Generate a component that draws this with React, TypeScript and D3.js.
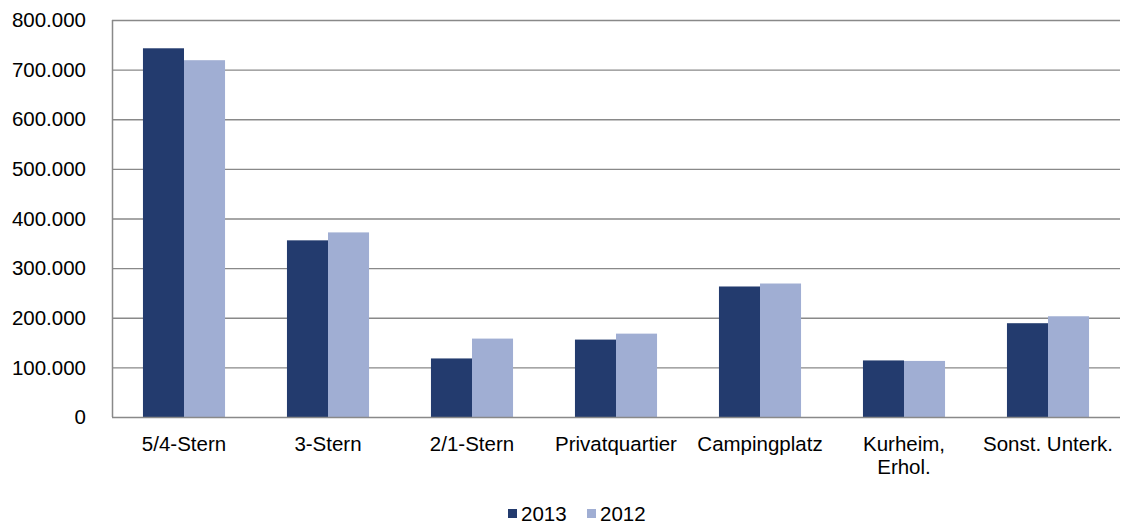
import { useEffect, useRef } from "react";
import * as d3 from "d3";

const categories = ["5/4-Stern", "3-Stern", "2/1-Stern", "Privatquartier", "Campingplatz", "Kurheim,\nErhol.", "Sonst. Unterk."];
const series = ["2013", "2012"];
const values2013 = [743000, 356000, 118000, 156000, 263000, 114000, 189000];
const values2012 = [719000, 372000, 158000, 168000, 269000, 113000, 203000];
const yTicks = [0, 100000, 200000, 300000, 400000, 500000, 600000, 700000, 800000];
const colors = ["#233b6e", "#a0aed3"];

const W = 1121;
const H = 524;
const margin = { top: 20, right: 1, bottom: 107, left: 112 };
const font = "'Liberation Sans', Arial, sans-serif";
const fs = 20.5;

export default function App() {
  const svgRef = useRef<SVGSVGElement>(null);

  useEffect(() => {
    if (!svgRef.current) return;
    const svg = d3.select(svgRef.current);
    svg.selectAll("*").remove();

    const innerW = W - margin.left - margin.right;
    const innerH = H - margin.top - margin.bottom;
    const g = svg.append("g").attr("transform", `translate(${margin.left},${margin.top})`);

    const x = d3.scaleBand<string>().domain(categories).range([0, innerW]).paddingInner(0.43).paddingOuter(0.215);
    const xs = d3.scaleBand<string>().domain(series).range([0, x.bandwidth()]);
    const y = d3.scaleLinear().domain([0, 800000]).range([innerH, 0]);
    const fmt = (v: number) => (v === 0 ? "0" : d3.format(",")(v).replace(/,/g, "."));

    // gridlines
    g.selectAll(".grid")
      .data(yTicks.filter((t) => t > 0))
      .enter()
      .append("line")
      .attr("x1", 0)
      .attr("x2", innerW)
      .attr("y1", (d) => y(d) + 0.5)
      .attr("y2", (d) => y(d) + 0.5)
      .attr("stroke", "#898989")
      .attr("stroke-width", 1.3);

    // bars
    const data = [values2013, values2012];
    series.forEach((s, si) => {
      g.selectAll(`.bar-${si}`)
        .data(categories)
        .enter()
        .append("rect")
        .attr("x", (c) => (x(c) ?? 0) + (xs(s) ?? 0))
        .attr("y", (_, i) => y(data[si][i]))
        .attr("width", xs.bandwidth())
        .attr("height", (_, i) => innerH - y(data[si][i]))
        .attr("fill", colors[si]);
    });

    // axes lines
    g.append("line").attr("x1", 0.5).attr("x2", 0.5).attr("y1", 0).attr("y2", innerH).attr("stroke", "#898989").attr("stroke-width", 1.5);
    g.append("line").attr("x1", 0).attr("x2", innerW).attr("y1", innerH + 0.5).attr("y2", innerH + 0.5).attr("stroke", "#898989").attr("stroke-width", 1.5);

    // y tick labels
    g.selectAll(".ylab")
      .data(yTicks)
      .enter()
      .append("text")
      .attr("x", -26)
      .attr("y", (d) => y(d))
      .attr("dy", "0.35em")
      .attr("text-anchor", "end")
      .attr("font-family", font)
      .attr("font-size", fs)
      .attr("fill", "#000")
      .text(fmt);

    // x labels
    categories.forEach((c) => {
      const t = g.append("text")
        .attr("x", (x(c) ?? 0) + x.bandwidth() / 2)
        .attr("y", innerH + 34)
        .attr("text-anchor", "middle")
        .attr("font-family", font)
        .attr("font-size", fs)
        .attr("fill", "#000");
      c.split("\n").forEach((line, li) => {
        t.append("tspan").attr("x", (x(c) ?? 0) + x.bandwidth() / 2).attr("dy", li === 0 ? 0 : 23).text(line);
      });
    });

    // legend
    const legend = svg.append("g").attr("transform", `translate(508, 509)`);
    const offsets = [0, 79];
    series.forEach((s, si) => {
      const lg = legend.append("g").attr("transform", `translate(${offsets[si]},0)`);
      lg.append("rect").attr("width", 9).attr("height", 9).attr("fill", colors[si]);
      lg.append("text")
        .attr("x", 13)
        .attr("y", 5)
        .attr("dy", "0.35em")
        .attr("font-family", font)
        .attr("font-size", fs)
        .attr("fill", "#000")
        .text(s);
    });
  }, []);

  return (
    <div style={{ position: "absolute", left: 0, top: 0, width: W, height: H, background: "#fff" }}>
      <svg ref={svgRef} width={W} height={H} />
    </div>
  );
}
